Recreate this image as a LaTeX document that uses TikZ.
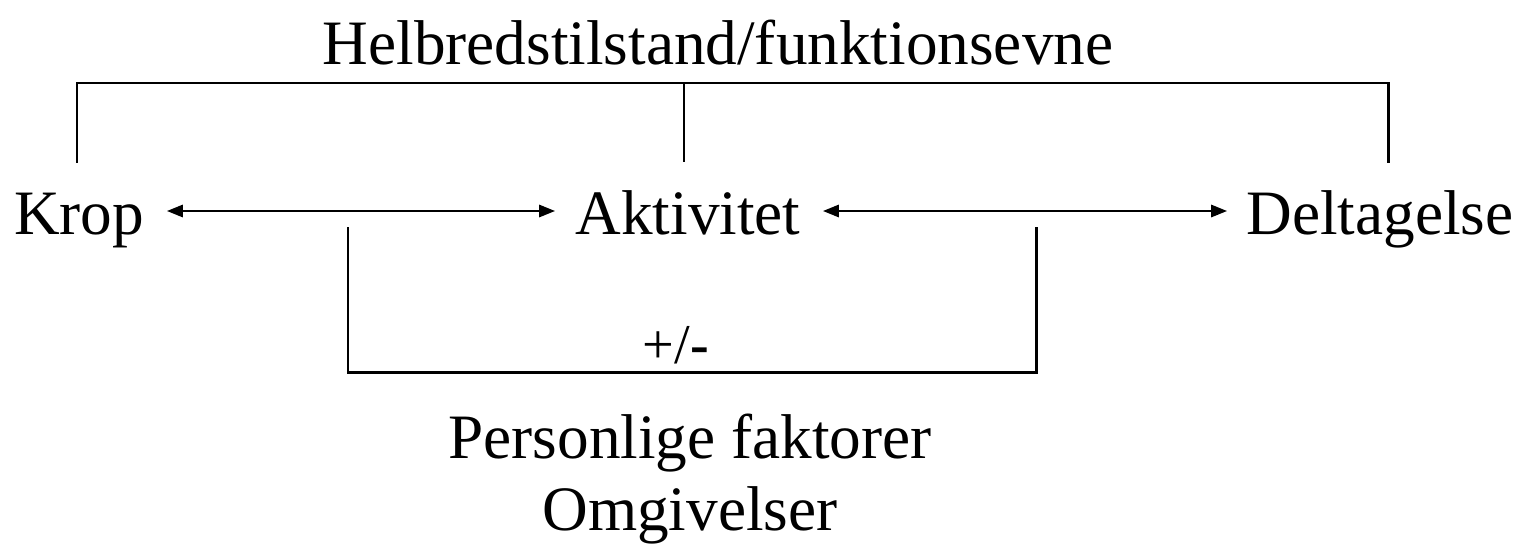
\documentclass[tikz,border=0pt]{standalone}
\usepackage{fontspec}
\setmainfont{Liberation Serif}
\usetikzlibrary{arrows.meta}
\begin{document}
\begin{tikzpicture}[x=0.02cm,y=-0.02cm,
  lbl/.style={inner sep=0pt,anchor=base,font=\fontsize{36}{43}\selectfont},
  brk/.style={line width=1.7pt,line cap=rect},
  link/.style={line width=1.1pt,{Triangle[length=9pt,width=7pt]}-{Triangle[length=9pt,width=7pt]}}]
\useasboundingbox (0,0) rectangle (1527,548);
\node[lbl] (title) at (718,64) {Helbredstilstand/funktionsevne};
\node[lbl] (krop) at (79,234) {Krop};
\node[lbl] (akt) at (688,234) {Aktivitet};
\node[lbl] (delt) at (1380,234) {Deltagelse};
\node[lbl,font=\fontsize{32}{38}\selectfont] (pm) at (676,363) {+/\textbf{-}};
\node[lbl] (pers) at (690,458) {Personlige faktorer};
\node[lbl] (omg) at (690,530) {Omgivelser};
% top bracket
\coordinate (tl) at (77,83);
\coordinate (tr) at (1388,83);
\coordinate (tm) at (684,83);
\coordinate (tlb) at (77,162);
\coordinate (trb) at (1388,162);
\coordinate (tmb) at (684,162);
\draw[brk] (tlb) -- (tl) -- (tr) -- (trb);
\draw[line width=1.5pt] (tm) -- (tmb);
% bottom bracket
\coordinate (bl) at (348,228);
\coordinate (br) at (1036,228);
\coordinate (bll) at (348,372);
\coordinate (brl) at (1036,372);
\draw[brk] (bl) -- (bll) -- (brl) -- (br);
% arrows
\coordinate (a1) at (167,211);
\coordinate (a2) at (555,211);
\coordinate (a3) at (823,211);
\coordinate (a4) at (1227,211);
\draw[link] (a1) -- (a2);
\draw[link] (a3) -- (a4);
\end{tikzpicture}
\end{document}
